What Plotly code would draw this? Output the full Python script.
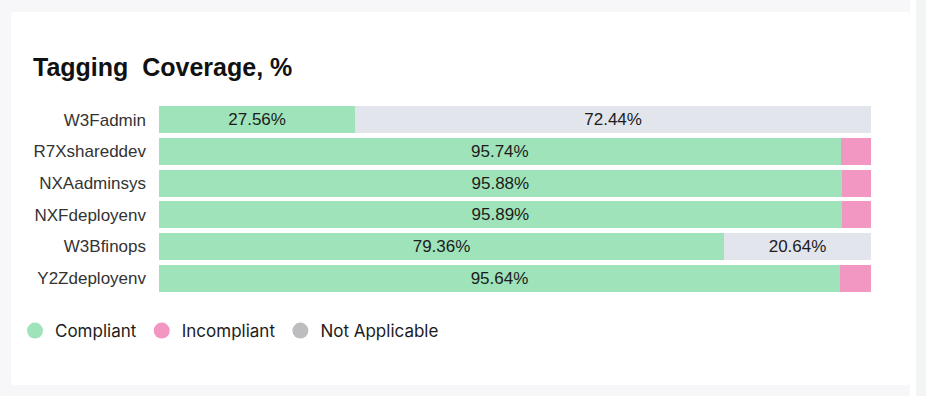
import plotly.graph_objects as go

categories = ["W3Fadmin", "R7Xshareddev", "NXAadminsys", "NXFdeployenv", "W3Bfinops", "Y2Zdeployenv"]
compliant = [27.56, 95.74, 95.88, 95.89, 79.36, 95.64]
incompliant = [0, 4.26, 4.12, 4.11, 0, 4.36]
not_applicable = [72.44, 0, 0, 0, 20.64, 0]

series_names = ["Compliant", "Incompliant", "Not Applicable"]
bar_colors = ["#9ee3b9", "#f296c2", "#e2e5ec"]
legend_colors = ["#9ee3b9", "#f296c2", "#bdbdbf"]

W, H = 926, 396
L, R, T, B = 159, 55, 104, 102
PW, PH = W - L - R, H - T - B


def px(x):
    return (x - L) / PW


def py(y):
    return (H - B - y) / PH


fig = go.Figure()
for name, vals, col in zip(series_names, [compliant, incompliant, not_applicable], bar_colors):
    fig.add_trace(go.Bar(
        y=categories, x=vals, name=name, orientation="h",
        marker=dict(color=col, line=dict(width=0)),
        texttemplate="%{x:.2f}%", textposition="inside", insidetextanchor="middle",
        insidetextfont=dict(family="Liberation Sans, Arial, sans-serif", size=17, color="#1c1c1c"),
        legendgroup=name, showlegend=False, hoverinfo="x+y+name",
    ))
for name, col in zip(series_names, legend_colors):
    fig.add_trace(go.Scatter(
        x=[None], y=[None], mode="markers", name=name, legendgroup=name,
        marker=dict(color=col, size=17, symbol="circle"), showlegend=True,
    ))

# card background shapes
shapes = [
    dict(type="rect", xref="paper", yref="paper", x0=px(910), x1=px(916), y0=py(396), y1=py(0),
         fillcolor="#ffffff", line=dict(width=0), layer="below"),
    dict(type="rect", xref="paper", yref="paper", x0=px(916), x1=px(926), y0=py(396), y1=py(0),
         fillcolor="#f3f5f5", line=dict(width=0), layer="below"),
]
x0, x1, y0, y1, r = 11, 910, 12, 385, 4
path = (f"M {px(x0 + r)},{py(y0)} L {px(x1 - r)},{py(y0)} Q {px(x1)},{py(y0)} {px(x1)},{py(y0 + r)} "
        f"L {px(x1)},{py(y1 - r)} Q {px(x1)},{py(y1)} {px(x1 - r)},{py(y1)} "
        f"L {px(x0 + r)},{py(y1)} Q {px(x0)},{py(y1)} {px(x0)},{py(y1 - r)} "
        f"L {px(x0)},{py(y0 + r)} Q {px(x0)},{py(y0)} {px(x0 + r)},{py(y0)} Z")
shapes.append(dict(type="path", xref="paper", yref="paper", path=path,
                   fillcolor="#ffffff", line=dict(width=0), layer="below"))

fig.update_layout(
    width=W, height=H,
    margin=dict(l=L, r=R, t=T, b=B, pad=0),
    barmode="stack", bargap=0.15,
    paper_bgcolor="#f7f7f9", plot_bgcolor="rgba(0,0,0,0)",
    uniformtext=dict(minsize=17, mode="hide"),
    shapes=shapes,
    showlegend=True,
    legend=dict(
        orientation="h", xref="container", yref="container",
        x=15 / W, y=1 - 331 / H, xanchor="left", yanchor="middle",
        font=dict(family="Inter, sans-serif", size=17, color="#1c1c1c"),
        bgcolor="rgba(0,0,0,0)", itemclick=False, itemdoubleclick=False,
    ),
    annotations=[dict(
        text="<b>Tagging  Coverage, %</b>", xref="paper", yref="paper",
        x=px(31), y=py(67), xanchor="left", yanchor="middle", showarrow=False,
        font=dict(family="Liberation Sans, Arial, sans-serif", size=25, color="#111111"),
    )],
    xaxis=dict(range=[0, 100], visible=False, fixedrange=True),
    yaxis=dict(autorange="reversed", showgrid=False, showline=False, zeroline=False,
               ticks="", ticklabelstandoff=12,
               tickfont=dict(family="Liberation Sans, Arial, sans-serif", size=17, color="#333333"),
               fixedrange=True),
)

fig.write_html(
    "out.html",
    config={"displayModeBar": False},
    post_script="document.body.style.margin='0';document.body.style.overflow='hidden';",
)
